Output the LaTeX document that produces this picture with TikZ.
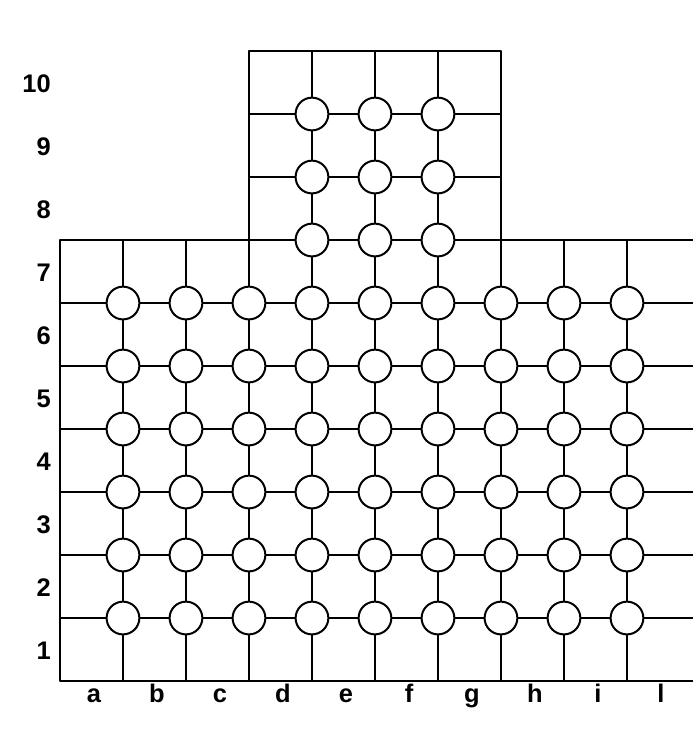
\documentclass[tikz,border=0pt]{standalone}
\usepackage{fontspec}
\setmainfont{Liberation Sans}
\begin{document}
\begin{tikzpicture}[line cap=round, line join=round,
    grid/.style={line width=0.9pt},
    stone/.style={circle, draw, line width=0.9pt, fill=white, minimum size=0.52cm, inner sep=0pt},
    lbl/.style={font=\bfseries\fontsize{11.5}{13}\selectfont, inner sep=0pt}]
  \useasboundingbox (-0.952,-0.825) rectangle (10.048,10.81);
  % board outline
  \coordinate (SW) at (0,0);
  \coordinate (NW) at (0,7);
  \coordinate (SE) at (10.048,0);
  \coordinate (NE) at (10.048,7);
  \draw[grid] (SE) -- (SW) -- (NW) -- (NE);
  \draw[grid] (3,7) -- (3,10) -- (7,10) -- (7,7);
  % lower block
  \foreach \y in {1,...,6} \draw[grid] (0,\y) -- (10.048,\y);
  \foreach \x in {1,...,9} \draw[grid] (\x,0) -- (\x,7);
  % upper block
  \foreach \y in {8,9} \draw[grid] (3,\y) -- (7,\y);
  \foreach \x in {4,5,6} \draw[grid] (\x,7) -- (\x,10);
  % stones
  \foreach \x in {1,...,9} \foreach \y in {1,...,6} \node[stone] (s\x-\y) at (\x,\y) {};
  \foreach \x in {4,5,6} \foreach \y in {7,8,9} \node[stone] (s\x-\y) at (\x,\y) {};
  % row numbers
  \foreach \k in {1,...,10} \node[lbl, anchor=east] (r\k) at (-0.14,\k-0.52) {\k};
  % column letters
  \foreach \c [count=\k] in {a,b,c,d,e,f,g,h,i,l}
    \node[lbl, anchor=base] (c\c) at (\k-0.46,-0.34) {\c};
\end{tikzpicture}
\end{document}
